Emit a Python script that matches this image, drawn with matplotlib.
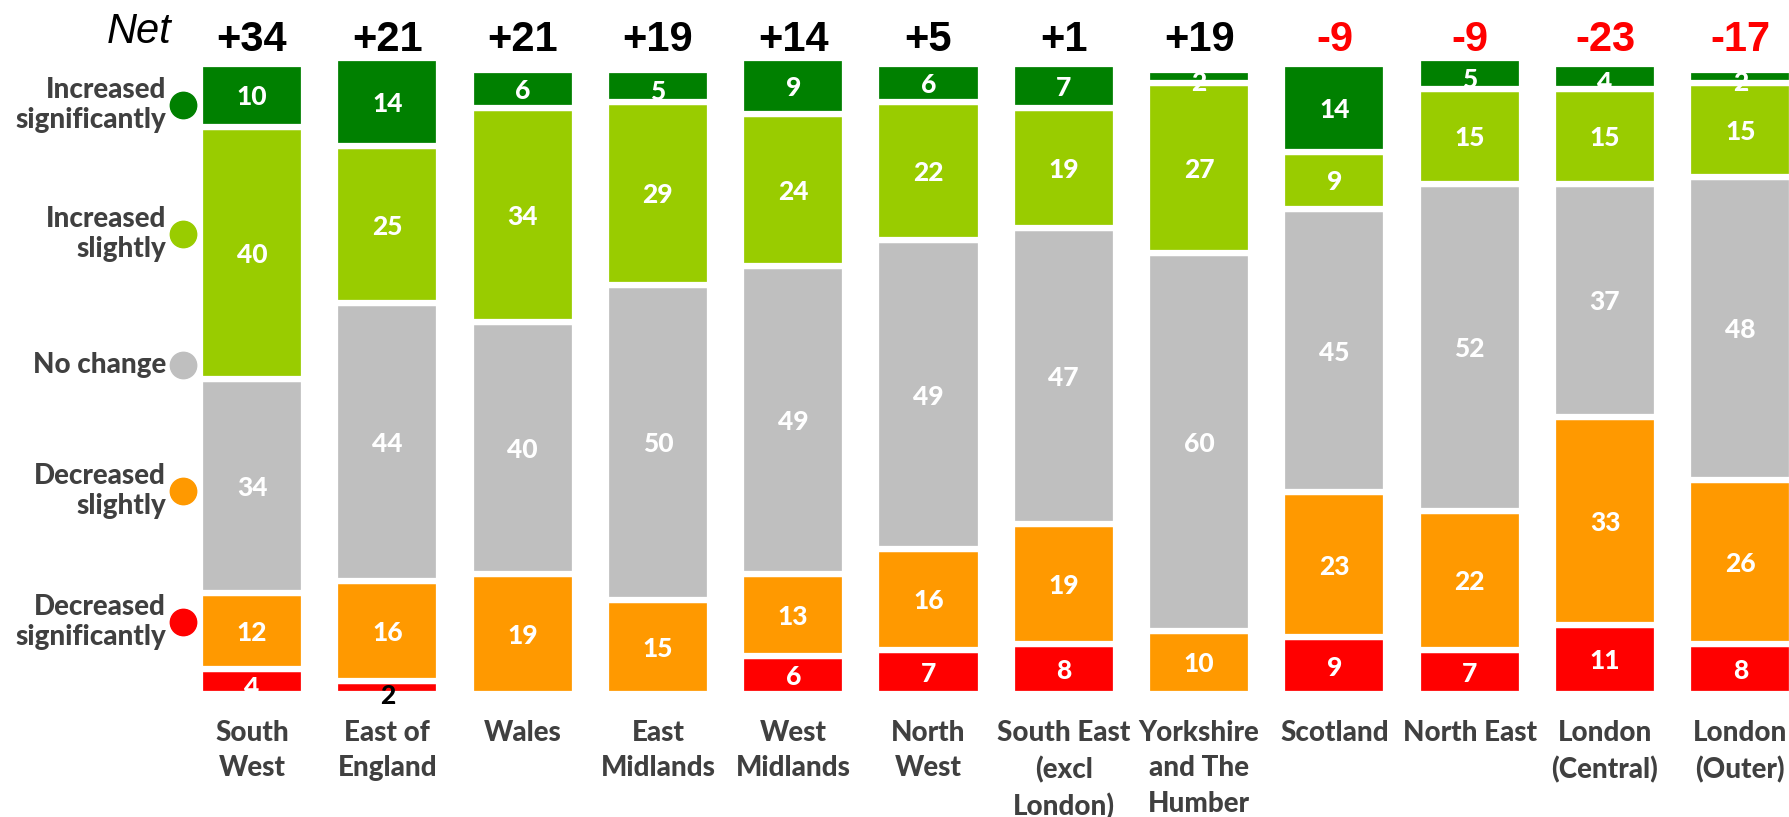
import matplotlib.pyplot as plt

# data, top-to-bottom order of stack
regions = ["South\nWest", "East of\nEngland", "Wales", "East\nMidlands", "West\nMidlands",
           "North\nWest", "South East\n(excl\nLondon)", "Yorkshire\nand The\nHumber",
           "Scotland", "North East", "London\n(Central)", "London\n(Outer)"]
inc_sig = [10, 14, 6, 5, 9, 6, 7, 2, 14, 5, 4, 2]
inc_slight = [40, 25, 34, 29, 24, 22, 19, 27, 9, 15, 15, 15]
no_change = [34, 44, 40, 50, 49, 49, 47, 60, 45, 52, 37, 48]
dec_slight = [12, 16, 19, 15, 13, 16, 19, 10, 23, 22, 33, 26]
dec_sig = [4, 2, 0, 0, 6, 7, 8, 0, 9, 7, 11, 8]
net = [34, 21, 21, 19, 14, 5, 1, 19, -9, -9, -23, -17]

legend_labels = ["Increased\nsignificantly", "Increased\nslightly", "No change",
                 "Decreased\nslightly", "Decreased\nsignificantly"]
colors = ["#008000", "#99CC00", "#BFBFBF", "#FF9900", "#FF0000"]

W, H = 1789, 817
X0, DX = 252, 135.3      # pixel centre of first bar, spacing
Y0, DY = 694, 6.3        # pixel baseline, pixels per unit


def xd(px):
    return (px - X0) / DX


def yd(py):
    return (Y0 - py) / DY


fig = plt.figure(figsize=(W / 100, H / 100), dpi=100)
ax = fig.add_axes([0, 0, 1, 1])
ax.set_xlim(xd(0), xd(W))
ax.set_ylim(yd(H), yd(0))
ax.axis("off")

label_font = "Lato"
wt = "black"
series = [dec_sig, dec_slight, no_change, inc_slight, inc_sig]  # bottom to top
series_colors = colors[::-1]
x = list(range(len(regions)))
bottom = [0] * len(regions)
for vals, col in zip(series, series_colors):
    ax.bar(x, vals, bottom=bottom, width=0.77, color=col, edgecolor="white",
           linewidth=4.5)
    for i, v in enumerate(vals):
        if v == 0:
            continue
        if v <= 2 and col == "#FF0000":
            ax.text(i, -0.3, str(v), ha="center", va="center", color="black",
                    fontsize=19, fontweight=wt, family=label_font)
        else:
            off = -1.0 if v <= 5 else -0.3
            ax.text(i, bottom[i] + v / 2 + off, str(v), ha="center", va="center",
                    color="white", fontsize=19, fontweight=wt, family=label_font)
    bottom = [b + v for b, v in zip(bottom, vals)]

# net values
for i, n in enumerate(net):
    txt = f"+{n}" if n > 0 else str(n)
    ax.text(i, yd(40), txt, ha="center", va="center", fontsize=30, fontweight="bold",
            color="black" if n > 0 else "#FF0000", family="Liberation Sans")
ax.text(xd(171), yd(32), "Net", ha="right", va="center", fontsize=30,
        style="italic", family="Liberation Sans")

# category labels
for i, r in enumerate(regions):
    ax.text(i, yd(720), r, ha="center", va="top", fontsize=20, fontweight=wt,
            color="#404040", family=label_font, linespacing=1.45)

# legend on the left
legend_y = [105, 234, 365, 491, 622]
for lab, col, py in zip(legend_labels, colors, legend_y):
    ax.plot(xd(183), yd(py), "o", markersize=19, color=col, clip_on=False)
    ax.text(xd(166), yd(py), lab, ha="right", va="center", fontsize=20,
            fontweight=wt, color="#404040", family=label_font, linespacing=1.2)

fig.savefig("out.png", dpi=100)
